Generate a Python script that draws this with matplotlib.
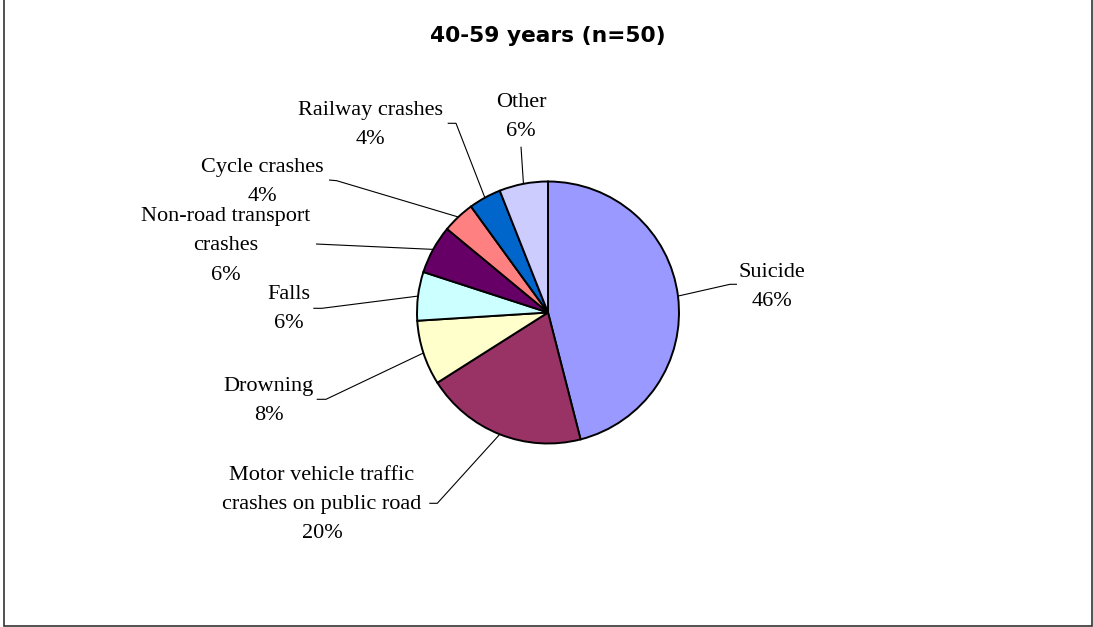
import math

import matplotlib
matplotlib.use("Agg")
import matplotlib.pyplot as plt

# Injury deaths by cause, ages 40-59
title = "40-59 years (n=50)"
categories = [
    "Suicide",
    "Motor vehicle traffic\ncrashes on public road",
    "Drowning",
    "Falls",
    "Non-road transport\ncrashes",
    "Cycle crashes",
    "Railway crashes",
    "Other",
]
shares = [46, 20, 8, 6, 6, 4, 4, 6]
colors = ["#9999FF", "#993366", "#FFFFCC", "#CCFFFF",
          "#660066", "#FF8080", "#0066CC", "#CCCCFF"]

W, H = 1093, 627
fig = plt.figure(figsize=(W / 100, H / 100), dpi=100)
ax = fig.add_axes([0, 0, 1, 1])


def Y(y):
    # pixel row (from top) to data y (from bottom)
    return H - y


cx, cy, r = 548, 312.5, 131
wedges, _ = ax.pie(shares, colors=colors, startangle=90, counterclock=False,
                   center=(cx, Y(cy)), radius=r,
                   wedgeprops=dict(edgecolor="black", linewidth=1.4))
ax.set_xlim(0, W)
ax.set_ylim(0, H)
ax.set_aspect("equal")
ax.axis("off")

# label block centre (x, y) and the leader-line points on the text side
layout = [
    (772, 286.7, [(737, 284.3), (730, 284.3)]),
    (322, 505, [(429.3, 503.3), (437.3, 503.3)]),
    (268.7, 400.5, [(316.7, 399.3), (326, 399.3)]),
    (288.5, 309, [(313.3, 308.3), (322, 308.3)]),
    (225.5, 246, [(316, 244)]),
    (262, 182, [(329, 180), (336.7, 180.7)]),
    (370.5, 125, [(447.7, 123.3), (456, 123.3)]),
    (521, 116.7, [(521, 146.7)]),
]

line_gap = 29
label_font = dict(family="Liberation Serif", size=16, color="black")
for wedge, name, share, (tx, ty, pts) in zip(wedges, categories, shares, layout):
    lines = name.split("\n") + [f"{share}%"]
    n = len(lines)
    for i, s in enumerate(lines):
        yy = ty + (i - (n - 1) / 2) * line_gap
        ax.text(tx, Y(yy), s, ha="center", va="center", **label_font)
    theta = math.radians((wedge.theta1 + wedge.theta2) / 2)
    rim = (cx + r * math.cos(theta), Y(cy) + r * math.sin(theta))
    xs = [p[0] for p in pts] + [rim[0]]
    ys = [Y(p[1]) for p in pts] + [rim[1]]
    ax.plot(xs, ys, color="black", linewidth=0.8, solid_capstyle="butt")

ax.text(548, Y(36.5), title, ha="center", va="center",
        family="DejaVu Sans", weight="bold", size=15.7, color="black")

# chart area border
ax.plot([3.5, 3.5, 1091.5, 1091.5], [Y(-2), Y(625.5), Y(625.5), Y(-2)],
        color="#333333", linewidth=1.2, solid_joinstyle="miter", clip_on=False)

fig.savefig("out.png", dpi=100)
